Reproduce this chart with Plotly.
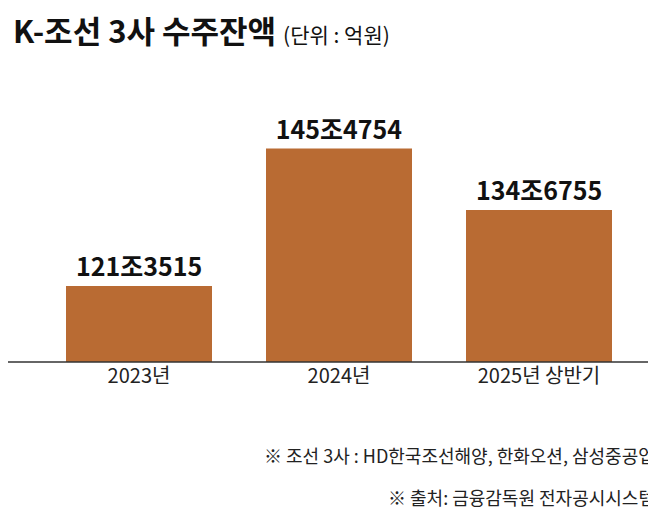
import plotly.graph_objects as go

categories = ["2023년", "2024년", "2025년 상반기"]
values_jo = [121.3515, 145.4754, 134.6755]
labels = ["<b>121조3515</b>", "<b>145조4754</b>", "<b>134조6755</b>"]

fig = go.Figure(go.Bar(
    x=categories, y=values_jo, text=labels, textposition="outside",
    textfont=dict(family="Noto Sans CJK KR", size=25, color="#111"),
    marker=dict(color="#B96B33", line=dict(width=0)),
    cliponaxis=False, hoverinfo="skip"))

fig.update_layout(
    width=656, height=515, paper_bgcolor="white", plot_bgcolor="white",
    margin=dict(l=31, r=25, t=92, b=161), bargap=0.27, showlegend=False,
    font=dict(family="Noto Sans CJK KR", color="#222"),
    xaxis=dict(showgrid=False, showline=False, ticks="", tickfont=dict(size=20, color="#222")),
    yaxis=dict(range=[108, 154], visible=False),
    shapes=[dict(type="line", xref="paper", yref="paper", x0=-31/600, x1=1+25/600,
                 y0=0, y1=0, line=dict(color="#333", width=1.5))],
    annotations=[
        dict(text="<b>K-조선 3사 수주잔액</b> <span style='font-size:21px'>(단위 : 억원)</span>",
             xref="paper", yref="paper", x=-28/600, y=1 + 70/262, xanchor="left", yanchor="middle",
             showarrow=False, font=dict(size=31, color="#111")),
        dict(text="※ 조선 3사 : HD한국조선해양, 한화오션, 삼성중공업", xref="paper", yref="paper",
             x=1+18/600, y=-93/262, xanchor="right", yanchor="middle", showarrow=False,
             font=dict(size=18, color="#222")),
        dict(text="※ 출처: 금융감독원 전자공시시스템", xref="paper", yref="paper",
             x=1+18/600, y=-135/262, xanchor="right", yanchor="middle", showarrow=False,
             font=dict(size=18, color="#222")),
    ])
fig.write_html("out.html")
